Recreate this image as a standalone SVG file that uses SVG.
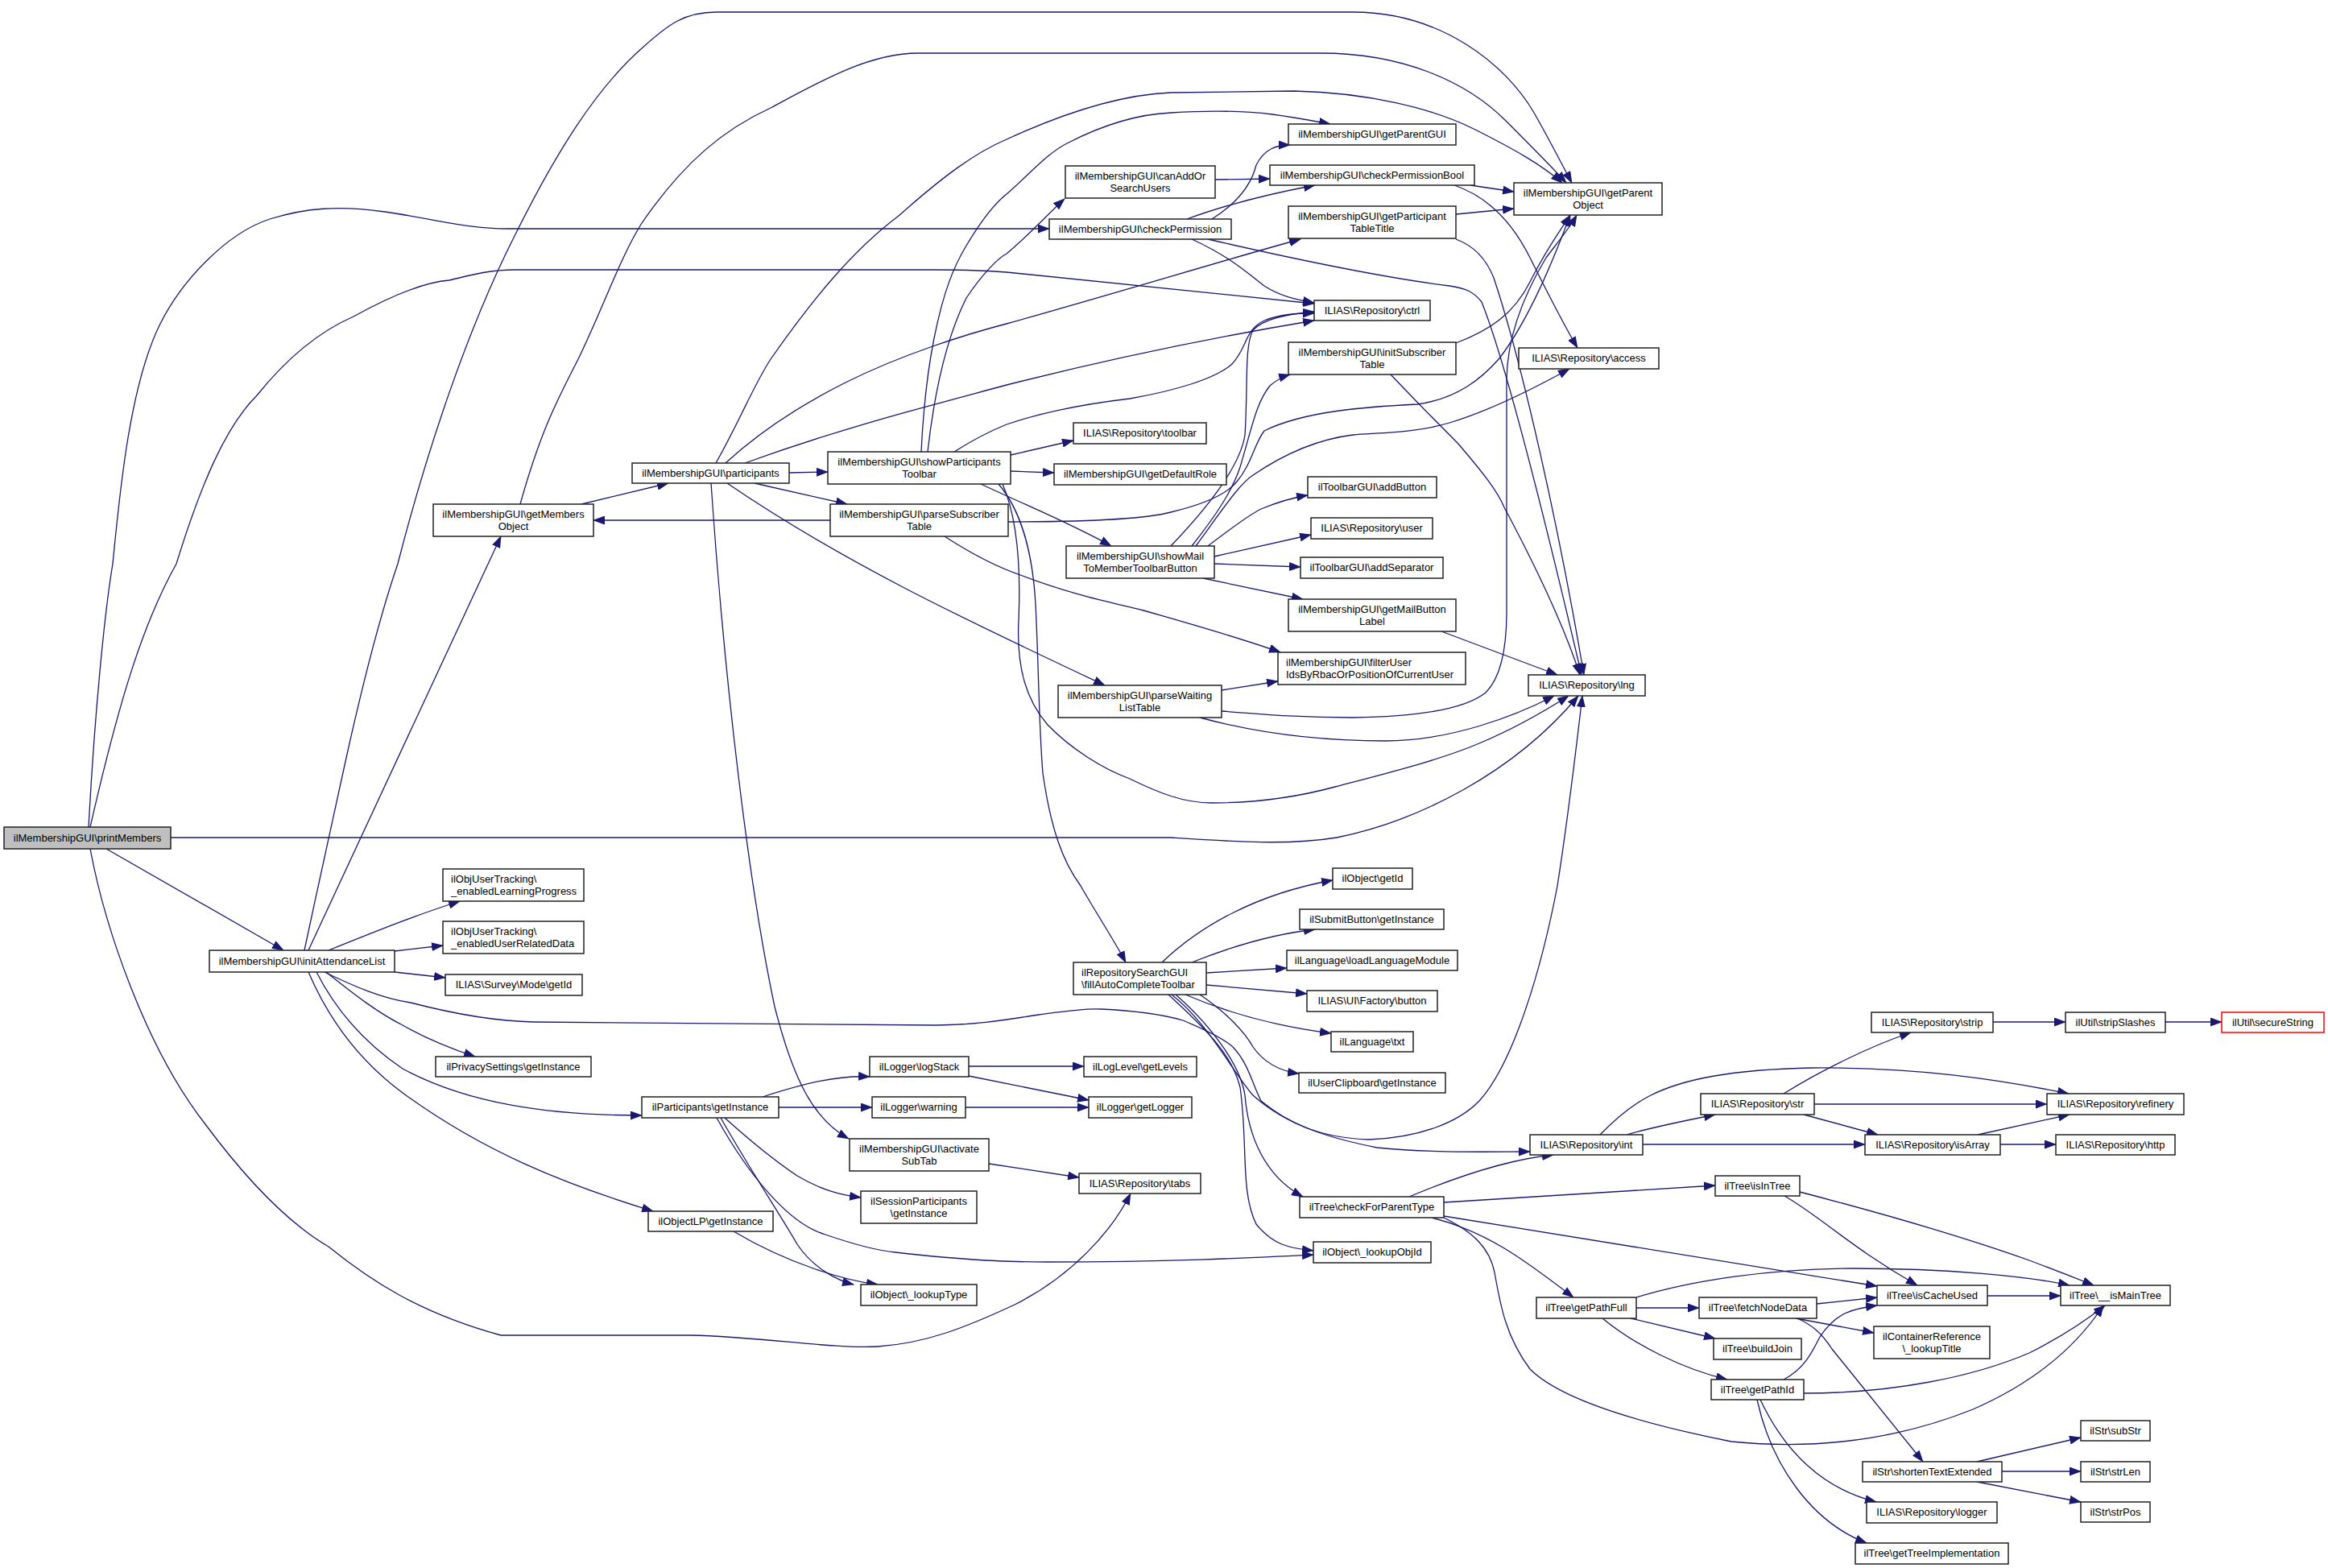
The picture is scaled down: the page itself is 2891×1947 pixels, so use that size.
<svg xmlns="http://www.w3.org/2000/svg" width="2891" height="1947" viewBox="0 0 2891 1947">
<style>
.n rect{fill:#fff;stroke:#222;stroke-width:1.5}
.n text{font-family:"Liberation Sans",Arial,sans-serif;font-size:13px;fill:#000;text-anchor:middle}
.n text.l{text-anchor:start}
#e path{fill:none;stroke:#191970;stroke-width:1.3}
</style>
<defs>
<marker id="a" markerUnits="userSpaceOnUse" markerWidth="15" markerHeight="11" viewBox="0 0 15 11" refX="14" refY="5.5" orient="auto"><path d="M0,0 L15,5.5 L0,11 z" fill="#191970"/></marker>
</defs>
<rect width="2891" height="1947" fill="#fff"/>
<g id="e" marker-end="url(#a)">
<path d="M110,1027 C118,880 130,760 140,700 C148,620 160,480 199,402 C225,350 280,290 335,272 C380,258 420,255 478,263 C540,272 580,284 630,284 L1303,284"/>
<path d="M112,1027 C150,860 180,770 219,700 C250,600 280,530 319,491 C360,440 400,410 439,393 C490,365 530,350 558,348 C590,340 610,335 640,335 L1160,335 C1200,335 1230,336 1260,339 L1632,377"/>
<path d="M212,1040 L1454,1040 C1530,1045 1600,1050 1660,1040 C1760,1020 1880,960 1960,864"/>
<path d="M132,1054 L352,1180"/>
<path d="M112,1054 C130,1150 180,1300 255,1396 C310,1470 360,1520 408,1548 C460,1590 520,1630 622,1658 L857,1658 C950,1660 1030,1675 1090,1672 C1150,1668 1200,1648 1260,1620 C1330,1585 1380,1530 1404,1482"/>
<path d="M383,1180 L622,666"/>
<path d="M378,1180 C395,1100 415,1010 428,950 C450,850 470,770 494,700 C530,560 580,410 638,295 C690,190 740,110 797,60 C830,30 850,15 890,15 L1680,15 C1790,15 1870,80 1905,140 C1925,175 1940,205 1952,227"/>
<path d="M646,626 C670,540 690,500 718,446 C750,380 770,320 797,277 C850,200 900,160 957,134 C1020,100 1080,66 1140,66 L1640,66 C1740,66 1820,100 1870,150 C1900,180 1925,205 1945,227"/>
<path d="M889,575 C920,520 935,480 957,446 C1010,370 1060,310 1116,268 C1170,220 1210,190 1250,173 C1300,150 1380,118 1454,115 L1607,113 C1700,115 1780,135 1830,160 C1880,185 1915,205 1940,227"/>
<path d="M1144,561 C1146,520 1150,470 1160,420 C1172,360 1185,330 1200,305 C1215,280 1232,255 1250,241 C1275,220 1300,190 1327,177 C1370,155 1410,142 1454,140 C1500,137 1540,137 1580,142 C1610,146 1630,150 1652,154"/>
<path d="M1152,561 C1160,490 1175,420 1200,370 C1220,340 1240,320 1250,315 C1280,290 1305,262 1322,247"/>
<path d="M1185,561 C1210,545 1230,535 1250,527 C1300,510 1360,500 1403,495 C1460,485 1510,470 1530,452 C1550,430 1545,410 1570,398 C1590,390 1610,389 1632,389"/>
<path d="M1255,565 L1333,547"/>
<path d="M1255,585 L1309,587"/>
<path d="M1218,601 C1280,630 1330,650 1380,678"/>
<path d="M1240,601 C1265,630 1282,680 1286,750 C1290,830 1290,900 1295,960 C1305,1030 1320,1070 1342,1100 C1365,1140 1385,1170 1398,1195"/>
<path d="M1245,601 C1262,640 1268,700 1265,770 C1262,830 1275,870 1301,900 C1330,930 1370,955 1403,967 C1440,985 1470,997 1505,997 C1560,997 1610,990 1658,977 C1730,958 1790,943 1837,923 C1880,905 1915,885 1948,864"/>
<path d="M980,587 L1028,586"/>
<path d="M937,600 L1052,626"/>
<path d="M722,626 L830,600"/>
<path d="M1031,646 L737,646"/>
<path d="M925,575 C1050,530 1150,505 1250,478 C1400,440 1530,415 1632,398"/>
<path d="M901,575 C950,530 1000,500 1050,475 C1120,440 1200,415 1250,402 C1400,360 1530,320 1615,297"/>
<path d="M883,600 C900,850 930,1100 962,1250 C985,1340 1010,1390 1054,1414"/>
<path d="M903,600 C1050,700 1200,770 1372,851"/>
<path d="M1173,666 C1210,690 1240,705 1270,715 C1330,738 1380,748 1420,758 C1480,775 1540,792 1590,810"/>
<path d="M1252,648 C1350,648 1420,645 1454,636 C1500,625 1525,612 1536,598 C1555,575 1558,550 1570,535 C1620,510 1700,505 1760,502 C1810,495 1840,470 1862,445 C1900,395 1930,320 1950,267"/>
<path d="M1454,678 C1500,630 1540,580 1546,540 C1550,480 1545,430 1556,410 C1570,395 1600,390 1632,387"/>
<path d="M1480,678 C1510,640 1530,610 1540,580 C1555,530 1560,500 1577,479 C1585,472 1592,468 1602,465"/>
<path d="M1485,678 C1520,630 1540,600 1556,590 C1600,560 1640,545 1680,540 C1720,537 1760,537 1800,525 C1850,510 1900,485 1949,458"/>
<path d="M1500,678 C1530,655 1550,640 1566,632 C1590,622 1605,618 1624,615"/>
<path d="M1508,691 L1628,664"/>
<path d="M1508,700 L1615,704"/>
<path d="M1494,718 L1618,744"/>
<path d="M1790,784 L1934,838"/>
<path d="M1517,857 L1587,846"/>
<path d="M1517,883 C1580,888 1620,891 1680,891 C1760,890 1820,880 1845,860 C1865,840 1871,800 1871,760 L1871,470 C1872,420 1890,370 1920,320 C1935,300 1948,285 1958,267"/>
<path d="M1490,891 C1560,910 1640,920 1720,920 C1800,920 1880,890 1930,864"/>
<path d="M1808,426 C1850,410 1880,390 1900,350 C1920,310 1935,290 1950,267"/>
<path d="M1727,465 C1760,500 1790,530 1810,550 C1840,585 1860,610 1868,630 C1900,690 1940,770 1962,838"/>
<path d="M1474,272 C1520,255 1580,240 1633,230"/>
<path d="M1505,272 C1540,250 1555,225 1560,205 C1570,185 1585,180 1602,180"/>
<path d="M1480,297 C1530,320 1550,340 1570,355 C1590,368 1610,372 1632,376"/>
<path d="M1500,297 C1600,320 1720,345 1800,355 C1820,358 1830,362 1840,375 C1870,450 1920,650 1964,838"/>
<path d="M1808,297 C1830,305 1845,320 1855,345 C1890,450 1935,650 1967,838"/>
<path d="M1808,266 L1880,259"/>
<path d="M1826,230 L1880,238"/>
<path d="M1806,230 C1850,245 1880,280 1900,320 C1920,360 1940,400 1959,432"/>
<path d="M1509,223 L1577,222"/>
<path d="M1443,1195 C1490,1150 1560,1110 1655,1093"/>
<path d="M1480,1195 C1530,1175 1580,1160 1633,1154"/>
<path d="M1498,1208 L1598,1202"/>
<path d="M1498,1223 L1623,1234"/>
<path d="M1472,1235 C1530,1260 1590,1275 1653,1283"/>
<path d="M1490,1235 C1520,1255 1545,1280 1556,1300 C1570,1320 1590,1330 1613,1333"/>
<path d="M1460,1235 C1500,1270 1540,1320 1546,1360 C1550,1410 1570,1460 1618,1486"/>
<path d="M1451,1235 C1500,1280 1530,1310 1540,1350 C1550,1420 1540,1480 1560,1520 C1580,1545 1600,1550 1631,1553"/>
<path d="M1455,1235 C1500,1270 1530,1330 1556,1360 C1600,1400 1660,1415 1710,1425 C1780,1432 1850,1430 1900,1430"/>
<path d="M403,1207 C440,1225 475,1240 510,1245 C560,1258 610,1268 663,1269 L1163,1273 C1220,1272 1250,1266 1290,1260 C1320,1256 1345,1252 1367,1253 C1410,1255 1445,1260 1469,1267 C1500,1280 1520,1290 1531,1300 C1550,1320 1555,1345 1566,1367 C1600,1395 1640,1413 1700,1415 C1760,1413 1810,1395 1837,1367 C1880,1320 1915,1200 1934,1100 C1945,1030 1955,950 1965,864"/>
<path d="M405,1207 C440,1235 470,1258 500,1273 C530,1290 560,1302 590,1312"/>
<path d="M393,1207 C420,1260 460,1300 500,1327 C580,1370 680,1385 797,1385"/>
<path d="M383,1207 C410,1270 450,1320 500,1357 C600,1430 700,1470 811,1504"/>
<path d="M408,1180 C470,1155 520,1135 571,1119"/>
<path d="M490,1181 L550,1174"/>
<path d="M490,1207 L553,1214"/>
<path d="M947,1362 C1000,1345 1040,1335 1080,1337"/>
<path d="M967,1375 L1083,1375"/>
<path d="M900,1388 C930,1415 960,1440 990,1460 C1020,1478 1045,1484 1069,1487"/>
<path d="M895,1388 C930,1450 970,1510 990,1545 C1010,1575 1040,1590 1060,1595"/>
<path d="M890,1388 C930,1460 980,1520 1025,1533 C1060,1545 1090,1553 1112,1555 C1200,1565 1250,1567 1300,1567 C1450,1567 1550,1562 1631,1558"/>
<path d="M911,1529 C980,1570 1050,1590 1090,1595"/>
<path d="M1203,1324 L1346,1324"/>
<path d="M1203,1336 L1352,1366"/>
<path d="M1199,1375 L1352,1375"/>
<path d="M1228,1445 L1340,1462"/>
<path d="M1750,1486 C1800,1465 1870,1440 1929,1434"/>
<path d="M1793,1493 L2130,1472"/>
<path d="M1793,1510 L2331,1597"/>
<path d="M1778,1512 C1850,1530 1900,1570 1954,1611"/>
<path d="M1793,1512 C1830,1530 1850,1550 1856,1580 C1863,1620 1870,1660 1900,1700 C1940,1740 2050,1770 2150,1790 C2250,1800 2350,1790 2450,1750 C2530,1715 2580,1670 2612,1621"/>
<path d="M2020,1409 C2050,1400 2090,1392 2130,1384"/>
<path d="M1987,1409 C2010,1385 2030,1370 2050,1360 C2090,1340 2150,1328 2250,1326 C2380,1325 2480,1340 2569,1358"/>
<path d="M2215,1358 C2260,1330 2320,1300 2373,1282"/>
<path d="M2253,1371 L2542,1371"/>
<path d="M2240,1384 L2332,1409"/>
<path d="M2040,1421 L2316,1421"/>
<path d="M2456,1409 L2570,1384"/>
<path d="M2484,1421 L2553,1421"/>
<path d="M2475,1269 L2565,1269"/>
<path d="M2689,1269 L2759,1269"/>
<path d="M2216,1485 C2260,1510 2300,1550 2381,1596"/>
<path d="M2235,1480 C2350,1510 2450,1540 2520,1565 C2560,1580 2585,1590 2600,1596"/>
<path d="M2468,1609 L2559,1609"/>
<path d="M2032,1624 L2110,1624"/>
<path d="M2025,1637 L2130,1662"/>
<path d="M1990,1637 C2030,1670 2090,1700 2145,1713"/>
<path d="M2032,1611 C2100,1590 2200,1575 2300,1575 C2420,1575 2520,1585 2570,1596"/>
<path d="M2256,1619 L2331,1611"/>
<path d="M2230,1637 L2327,1655"/>
<path d="M2232,1637 C2250,1645 2262,1655 2275,1675 L2388,1815"/>
<path d="M2215,1713 C2240,1700 2250,1680 2260,1660 C2280,1630 2300,1625 2331,1621"/>
<path d="M2240,1730 C2350,1730 2450,1710 2520,1680 C2560,1660 2590,1640 2614,1621"/>
<path d="M2186,1738 C2220,1810 2270,1850 2330,1865"/>
<path d="M2182,1738 C2200,1820 2250,1890 2318,1916"/>
<path d="M2455,1815 L2584,1785"/>
<path d="M2486,1827 L2584,1827"/>
<path d="M2455,1840 L2584,1865"/>
</g>
<g id="n1" class="n"><rect x="5" y="1027" width="207" height="27" style="fill:#bfbfbf"/><text x="108.5" y="1045">ilMembershipGUI\printMembers</text></g>
<g id="n2" class="n"><rect x="260" y="1180" width="230" height="27"/><text x="375" y="1198">ilMembershipGUI\initAttendanceList</text></g>
<g id="n3" class="n"><rect x="538" y="626" width="199" height="40"/><text x="637.5" y="643">ilMembershipGUI\getMembers</text><text x="637.5" y="658">Object</text></g>
<g id="n4" class="n"><rect x="785" y="575" width="195" height="25"/><text x="882.5" y="592">ilMembershipGUI\participants</text></g>
<g id="n5" class="n"><rect x="1028" y="561" width="227" height="40"/><text x="1141.5" y="578">ilMembershipGUI\showParticipants</text><text x="1141.5" y="593">Toolbar</text></g>
<g id="n6" class="n"><rect x="1031" y="626" width="221" height="40"/><text x="1141.5" y="643">ilMembershipGUI\parseSubscriber</text><text x="1141.5" y="658">Table</text></g>
<g id="n7" class="n"><rect x="1303" y="272" width="226" height="25"/><text x="1416" y="289">ilMembershipGUI\checkPermission</text></g>
<g id="n8" class="n"><rect x="1323" y="206" width="186" height="40"/><text x="1416" y="223">ilMembershipGUI\canAddOr</text><text x="1416" y="238">SearchUsers</text></g>
<g id="n9" class="n"><rect x="1600" y="154" width="208" height="26"/><text x="1704" y="171">ilMembershipGUI\getParentGUI</text></g>
<g id="n10" class="n"><rect x="1577" y="205" width="254" height="25"/><text x="1704" y="222">ilMembershipGUI\checkPermissionBool</text></g>
<g id="n11" class="n"><rect x="1600" y="256" width="208" height="40"/><text x="1704" y="273">ilMembershipGUI\getParticipant</text><text x="1704" y="288">TableTitle</text></g>
<g id="n12" class="n"><rect x="1632" y="373" width="144" height="25"/><text x="1704" y="390">ILIAS\Repository\ctrl</text></g>
<g id="n13" class="n"><rect x="1600" y="425" width="208" height="40"/><text x="1704" y="442">ilMembershipGUI\initSubscriber</text><text x="1704" y="457">Table</text></g>
<g id="n14" class="n"><rect x="1880" y="227" width="184" height="40"/><text x="1972" y="244">ilMembershipGUI\getParent</text><text x="1972" y="259">Object</text></g>
<g id="n15" class="n"><rect x="1886" y="432" width="174" height="26"/><text x="1973" y="449">ILIAS\Repository\access</text></g>
<g id="n16" class="n"><rect x="1333" y="525" width="165" height="26"/><text x="1415.5" y="542">ILIAS\Repository\toolbar</text></g>
<g id="n17" class="n"><rect x="1309" y="576" width="214" height="26"/><text x="1416" y="593">ilMembershipGUI\getDefaultRole</text></g>
<g id="n18" class="n"><rect x="1324" y="678" width="184" height="40"/><text x="1416" y="695">ilMembershipGUI\showMail</text><text x="1416" y="710">ToMemberToolbarButton</text></g>
<g id="n19" class="n"><rect x="1624" y="592" width="160" height="26"/><text x="1704" y="609">ilToolbarGUI\addButton</text></g>
<g id="n20" class="n"><rect x="1628" y="643" width="151" height="26"/><text x="1703.5" y="660">ILIAS\Repository\user</text></g>
<g id="n21" class="n"><rect x="1615" y="692" width="177" height="26"/><text x="1703.5" y="709">ilToolbarGUI\addSeparator</text></g>
<g id="n22" class="n"><rect x="1600" y="744" width="208" height="40"/><text x="1704" y="761">ilMembershipGUI\getMailButton</text><text x="1704" y="776">Label</text></g>
<g id="n23" class="n"><rect x="1587" y="810" width="233" height="40"/><text class="l" x="1597" y="827">ilMembershipGUI\filterUser</text><text class="l" x="1597" y="842">IdsByRbacOrPositionOfCurrentUser</text></g>
<g id="n24" class="n"><rect x="1314" y="851" width="203" height="40"/><text x="1415.5" y="868">ilMembershipGUI\parseWaiting</text><text x="1415.5" y="883">ListTable</text></g>
<g id="n25" class="n"><rect x="1898" y="838" width="145" height="26"/><text x="1970.5" y="855">ILIAS\Repository\lng</text></g>
<g id="n26" class="n"><rect x="550" y="1079" width="175" height="40"/><text class="l" x="560" y="1096">ilObjUserTracking\</text><text class="l" x="560" y="1111">_enabledLearningProgress</text></g>
<g id="n27" class="n"><rect x="550" y="1144" width="175" height="40"/><text class="l" x="560" y="1161">ilObjUserTracking\</text><text class="l" x="560" y="1176">_enabledUserRelatedData</text></g>
<g id="n28" class="n"><rect x="553" y="1210" width="170" height="26"/><text x="638" y="1227">ILIAS\Survey\Mode\getId</text></g>
<g id="n29" class="n"><rect x="541" y="1312" width="193" height="25"/><text x="637.5" y="1329">ilPrivacySettings\getInstance</text></g>
<g id="n30" class="n"><rect x="797" y="1362" width="170" height="26"/><text x="882" y="1379">ilParticipants\getInstance</text></g>
<g id="n31" class="n"><rect x="805" y="1504" width="155" height="25"/><text x="882.5" y="1521">ilObjectLP\getInstance</text></g>
<g id="n32" class="n"><rect x="1069" y="1595" width="144" height="26"/><text x="1141" y="1612">ilObject\_lookupType</text></g>
<g id="n33" class="n"><rect x="1080" y="1312" width="123" height="25"/><text x="1141.5" y="1329">ilLogger\logStack</text></g>
<g id="n34" class="n"><rect x="1083" y="1362" width="116" height="26"/><text x="1141" y="1379">ilLogger\warning</text></g>
<g id="n35" class="n"><rect x="1055" y="1414" width="173" height="40"/><text x="1141.5" y="1431">ilMembershipGUI\activate</text><text x="1141.5" y="1446">SubTab</text></g>
<g id="n36" class="n"><rect x="1069" y="1479" width="144" height="40"/><text x="1141" y="1496">ilSessionParticipants</text><text x="1141" y="1511">\getInstance</text></g>
<g id="n37" class="n"><rect x="1346" y="1312" width="140" height="25"/><text x="1416" y="1329">ilLogLevel\getLevels</text></g>
<g id="n38" class="n"><rect x="1352" y="1362" width="128" height="26"/><text x="1416" y="1379">ilLogger\getLogger</text></g>
<g id="n39" class="n"><rect x="1340" y="1457" width="151" height="25"/><text x="1415.5" y="1474">ILIAS\Repository\tabs</text></g>
<g id="n40" class="n"><rect x="1333" y="1195" width="165" height="40"/><text class="l" x="1343" y="1212">ilRepositorySearchGUI</text><text class="l" x="1343" y="1227">\fillAutoCompleteToolbar</text></g>
<g id="n41" class="n"><rect x="1655" y="1078" width="99" height="26"/><text x="1704.5" y="1095">ilObject\getId</text></g>
<g id="n42" class="n"><rect x="1614" y="1129" width="179" height="25"/><text x="1703.5" y="1146">ilSubmitButton\getInstance</text></g>
<g id="n43" class="n"><rect x="1598" y="1180" width="212" height="25"/><text x="1704" y="1197">ilLanguage\loadLanguageModule</text></g>
<g id="n44" class="n"><rect x="1623" y="1230" width="162" height="26"/><text x="1704" y="1247">ILIAS\UI\Factory\button</text></g>
<g id="n45" class="n"><rect x="1653" y="1281" width="102" height="25"/><text x="1704" y="1298">ilLanguage\txt</text></g>
<g id="n46" class="n"><rect x="1613" y="1332" width="182" height="25"/><text x="1704" y="1349">ilUserClipboard\getInstance</text></g>
<g id="n47" class="n"><rect x="1614" y="1486" width="179" height="26"/><text x="1703.5" y="1503">ilTree\checkForParentType</text></g>
<g id="n48" class="n"><rect x="1631" y="1542" width="146" height="26"/><text x="1704" y="1559">ilObject\_lookupObjId</text></g>
<g id="n49" class="n"><rect x="1900" y="1409" width="140" height="25"/><text x="1970" y="1426">ILIAS\Repository\int</text></g>
<g id="n50" class="n"><rect x="2324" y="1257" width="151" height="25"/><text x="2399.5" y="1274">ILIAS\Repository\strip</text></g>
<g id="n51" class="n"><rect x="2565" y="1257" width="124" height="25"/><text x="2627" y="1274">ilUtil\stripSlashes</text></g>
<g id="n52" class="n"><rect x="2759" y="1257" width="127" height="25" style="stroke:#f00"/><text x="2822.5" y="1274">ilUtil\secureString</text></g>
<g id="n53" class="n"><rect x="2112" y="1358" width="141" height="26"/><text x="2182.5" y="1375">ILIAS\Repository\str</text></g>
<g id="n54" class="n"><rect x="2542" y="1358" width="170" height="26"/><text x="2627" y="1375">ILIAS\Repository\refinery</text></g>
<g id="n55" class="n"><rect x="2316" y="1409" width="168" height="25"/><text x="2400" y="1426">ILIAS\Repository\isArray</text></g>
<g id="n56" class="n"><rect x="2553" y="1409" width="148" height="25"/><text x="2627" y="1426">ILIAS\Repository\http</text></g>
<g id="n57" class="n"><rect x="2130" y="1460" width="105" height="25"/><text x="2182.5" y="1477">ilTree\isInTree</text></g>
<g id="n58" class="n"><rect x="2331" y="1596" width="137" height="25"/><text x="2399.5" y="1613">ilTree\isCacheUsed</text></g>
<g id="n59" class="n"><rect x="2559" y="1596" width="136" height="25"/><text x="2627" y="1613">ilTree\__isMainTree</text></g>
<g id="n60" class="n"><rect x="1908" y="1611" width="124" height="26"/><text x="1970" y="1628">ilTree\getPathFull</text></g>
<g id="n61" class="n"><rect x="2110" y="1611" width="146" height="26"/><text x="2183" y="1628">ilTree\fetchNodeData</text></g>
<g id="n62" class="n"><rect x="2128" y="1662" width="109" height="26"/><text x="2182.5" y="1679">ilTree\buildJoin</text></g>
<g id="n63" class="n"><rect x="2327" y="1647" width="144" height="40"/><text x="2399" y="1664">ilContainerReference</text><text x="2399" y="1679">\_lookupTitle</text></g>
<g id="n64" class="n"><rect x="2125" y="1713" width="115" height="25"/><text x="2182.5" y="1730">ilTree\getPathId</text></g>
<g id="n65" class="n"><rect x="2313" y="1815" width="173" height="25"/><text x="2399.5" y="1832">ilStr\shortenTextExtended</text></g>
<g id="n66" class="n"><rect x="2584" y="1764" width="86" height="25"/><text x="2627" y="1781">ilStr\subStr</text></g>
<g id="n67" class="n"><rect x="2584" y="1815" width="86" height="25"/><text x="2627" y="1832">ilStr\strLen</text></g>
<g id="n68" class="n"><rect x="2584" y="1865" width="86" height="25"/><text x="2627" y="1882">ilStr\strPos</text></g>
<g id="n69" class="n"><rect x="2318" y="1865" width="162" height="26"/><text x="2399" y="1882">ILIAS\Repository\logger</text></g>
<g id="n70" class="n"><rect x="2304" y="1916" width="190" height="26"/><text x="2399" y="1933">ilTree\getTreeImplementation</text></g>
</svg>
